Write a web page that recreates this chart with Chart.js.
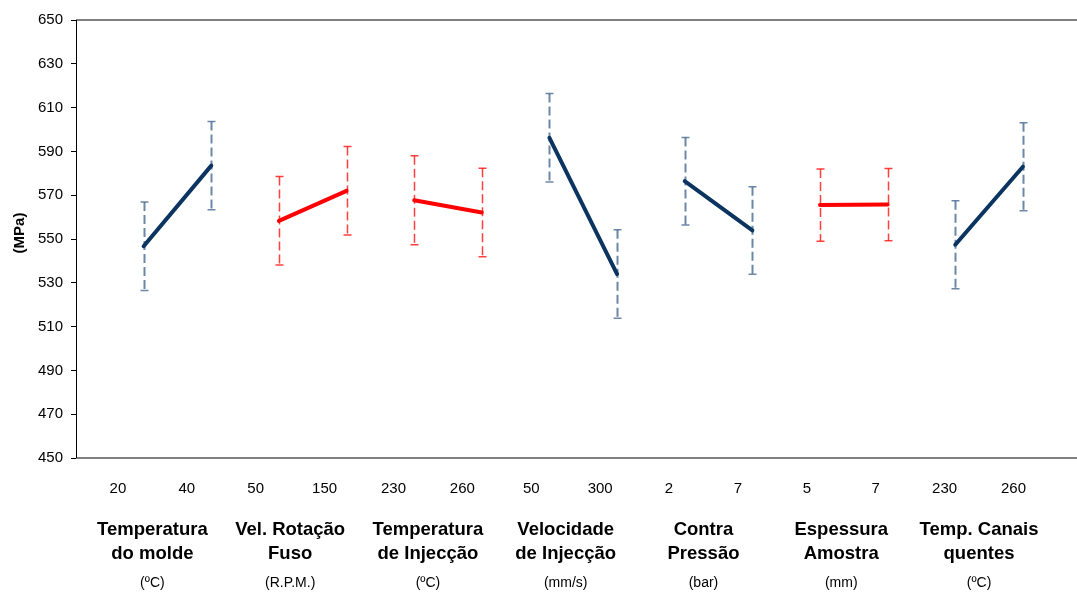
<!DOCTYPE html>
<html lang="pt">
<head>
<meta charset="utf-8">
<title>Efeitos principais - Tensão (MPa)</title>
<script src="https://cdn.jsdelivr.net/npm/chart.js@4.4.1/dist/chart.umd.min.js"></script>
<style>
  html, body { margin: 0; padding: 0; background: #ffffff; }
  #wrap { width: 1077px; height: 592px; }
</style>
</head>
<body>
<div id="wrap"><canvas id="efeitos" width="1077" height="592"></canvas></div>
<script>
// ---- dados ----
const fatores = [
  ['Temperatura', 'do molde'],
  ['Vel. Rotação', 'Fuso'],
  ['Temperatura', 'de Injecção'],
  ['Velocidade', 'de Injecção'],
  ['Contra', 'Pressão'],
  ['Espessura', 'Amostra'],
  ['Temp. Canais', 'quentes'],
];
const unidades = ['(ºC)', '(R.P.M.)', '(ºC)', '(mm/s)', '(bar)', '(mm)', '(ºC)'];
const niveis = ['20', '40', '50', '150', '230', '260', '50', '300', '2', '7', '5', '7', '230', '260'];

// média da resposta em cada nível (dois por fator)
const medias = [546.7, 583.5, 558.3, 572.0, 567.7, 562.1, 596.2, 534.0, 576.4, 553.9, 565.5, 565.7, 547.4, 583.0];
// meia amplitude das barras de erro
const erros = [20.2, 20.2, 20.2, 20.2, 20.3, 20.2, 20.2, 20.2, 20.0, 20.0, 16.5, 16.5, 20.1, 20.1];
// fatores significativos a vermelho
const significativo = [false, true, true, false, false, true, false];

const yTicks = [450, 470, 490, 510, 530, 550, 570, 590, 610, 630, 650];

const AZUL = '#0b3461';
const VERMELHO = '#ff0000';

const FONTE = '"Liberation Sans", Arial, Helvetica, sans-serif';

// posição das etiquetas de nível no eixo x
const posNivel = i => 0.62 + i * 1.0185;

const datasets = fatores.map((f, g) => ({
  label: f.join(' '),
  data: [0, 1].map(k => ({ x: 2 * g + k + 1, y: medias[2 * g + k] })),
  borderColor: significativo[g] ? VERMELHO : AZUL,
  borderWidth: 4,
  borderCapStyle: 'round',
  pointRadius: 0,
  tension: 0,
  fill: false,
}));

// barras de erro tracejadas, por baixo das linhas
const barrasErro = {
  id: 'barrasErro',
  beforeDatasetsDraw(chart) {
    const { ctx, scales: { x, y } } = chart;
    ctx.save();
    medias.forEach((m, i) => {
      const g = Math.floor(i / 2);
      const px = Math.round(x.getPixelForValue(i + 1)) + 0.5;
      const top = y.getPixelForValue(m + erros[i]);
      const bot = y.getPixelForValue(m - erros[i]);
      const cor = significativo[g] ? 'rgba(255,30,30,0.85)' : 'rgba(70,105,145,0.8)';
      ctx.strokeStyle = cor;
      ctx.lineWidth = significativo[g] ? 1.5 : 2;
      ctx.setLineDash([9, 4]);
      ctx.beginPath();
      ctx.moveTo(px, top);
      ctx.lineTo(px, bot);
      ctx.stroke();
      ctx.setLineDash([]);
      ctx.lineWidth = 1.5;
      ctx.beginPath();
      ctx.moveTo(px - 4, top);
      ctx.lineTo(px + 4, top);
      ctx.moveTo(px - 4, bot);
      ctx.lineTo(px + 4, bot);
      ctx.stroke();
    });
    ctx.restore();
  },
};

// moldura, título do eixo y e legendas dos fatores
const legendas = {
  id: 'legendas',
  afterDraw(chart) {
    const { ctx, chartArea: a, scales: { x } } = chart;
    ctx.save();

    ctx.strokeStyle = '#808080';
    ctx.lineWidth = 2;
    ctx.beginPath();
    ctx.moveTo(a.left, a.top);
    ctx.lineTo(a.right, a.top);
    ctx.moveTo(a.left, a.bottom);
    ctx.lineTo(a.right, a.bottom);
    ctx.stroke();
    ctx.strokeStyle = '#000';
    ctx.lineWidth = 1;
    ctx.beginPath();
    ctx.moveTo(a.left + 0.5, a.top);
    ctx.lineTo(a.left + 0.5, a.bottom);
    ctx.stroke();

    ctx.fillStyle = '#000';
    ctx.textAlign = 'center';
    ctx.textBaseline = 'alphabetic';

    ctx.save();
    ctx.translate(20, 233);
    ctx.rotate(-Math.PI / 2);
    ctx.textBaseline = 'middle';
    ctx.font = 'bold 15px ' + FONTE;
    ctx.fillText('(MPa)', 0, 0);
    ctx.restore();

    ctx.font = '15px ' + FONTE;
    niveis.forEach((t, i) => {
      ctx.fillText(t, x.getPixelForValue(posNivel(i)), a.bottom + 35);
    });

    fatores.forEach((linhas, g) => {
      const cx = (x.getPixelForValue(posNivel(2 * g)) + x.getPixelForValue(posNivel(2 * g + 1))) / 2;
      ctx.font = 'bold 18.5px ' + FONTE;
      ctx.fillText(linhas[0], cx, a.bottom + 77);
      ctx.fillText(linhas[1], cx, a.bottom + 101);
      ctx.font = '14px ' + FONTE;
      ctx.fillText(unidades[g], cx, a.bottom + 129);
    });
    ctx.restore();
  },
};

new Chart(document.getElementById('efeitos'), {
  type: 'line',
  data: { datasets },
  options: {
    responsive: false,
    animation: false,
    layout: { padding: { left: 0, right: 0, top: 20, bottom: 134 } },
    plugins: { legend: { display: false }, tooltip: { enabled: false } },
    scales: {
      x: { type: 'linear', display: false, min: 0, max: 14.8 },
      y: {
        min: 450,
        max: 650,
        afterBuildTicks: s => { s.ticks = yTicks.map(v => ({ value: v })); },
        afterFit: s => { s.width = 76; },
        border: { display: true, color: '#000', width: 1 },
        grid: { drawOnChartArea: false, drawTicks: true, tickLength: 5, tickColor: '#000', color: '#000' },
        ticks: { color: '#000', padding: 8, font: { family: FONTE, size: 15 } },
      },
    },
  },
  plugins: [barrasErro, legendas],
});
</script>
</body>
</html>
